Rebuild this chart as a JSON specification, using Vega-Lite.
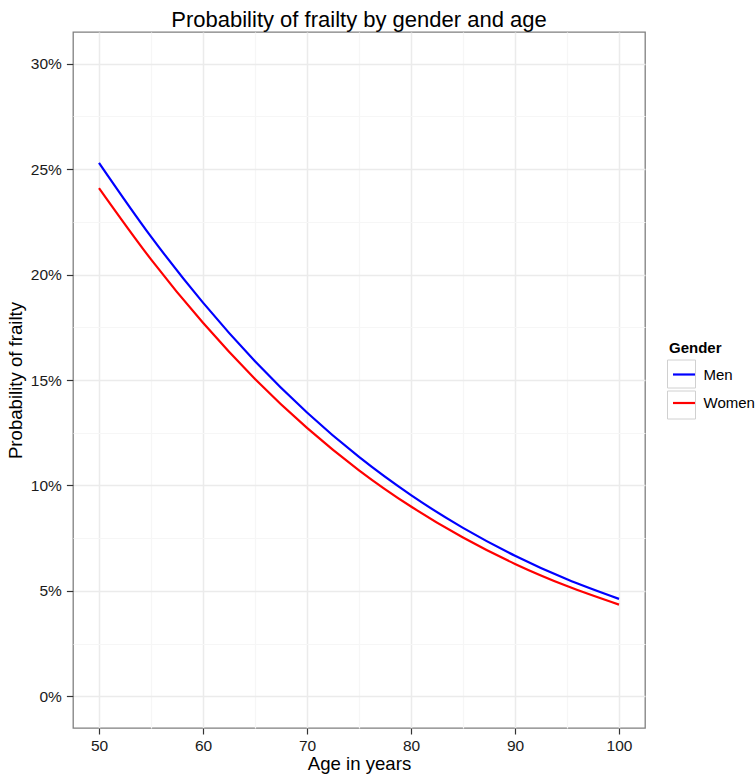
{
  "$schema": "https://vega.github.io/schema/vega-lite/v6.json",
  "autosize": "none",
  "width": 572,
  "height": 696,
  "padding": {"left": 73, "top": 32, "right": 110, "bottom": 46},
  "background": "white",
  "title": {
    "text": "Probability of frailty by gender and age",
    "font": "Liberation Sans",
    "fontSize": 22,
    "fontWeight": "normal",
    "color": "#000000",
    "anchor": "middle",
    "frame": "group",
    "baseline": "top",
    "offset": 0
  },
  "config": {
    "view": {"stroke": "#7f7f7f", "strokeWidth": 1.3},
    "font": "Liberation Sans",
    "axis": {
      "domain": false,
      "labelFont": "Liberation Sans",
      "labelFontSize": 15.5,
      "labelColor": "#1a1a1a",
      "titleFont": "Liberation Sans",
      "titleFontSize": 18.6,
      "titleFontWeight": "normal",
      "titleColor": "#000000",
      "tickColor": "#333333",
      "tickSize": 6,
      "tickWidth": 1.2
    },
    "legend": {"padding": 0}
  },
  "data": {
    "values": [
      {"age": 50, "gender": "Men", "p": 0.2530},
      {"age": 55, "gender": "Men", "p": 0.2180},
      {"age": 60, "gender": "Men", "p": 0.1867},
      {"age": 65, "gender": "Men", "p": 0.1589},
      {"age": 70, "gender": "Men", "p": 0.1346},
      {"age": 75, "gender": "Men", "p": 0.1135},
      {"age": 80, "gender": "Men", "p": 0.0954},
      {"age": 85, "gender": "Men", "p": 0.0799},
      {"age": 90, "gender": "Men", "p": 0.0667},
      {"age": 95, "gender": "Men", "p": 0.0555},
      {"age": 100, "gender": "Men", "p": 0.0462},
      {"age": 50, "gender": "Women", "p": 0.2410},
      {"age": 55, "gender": "Women", "p": 0.2072},
      {"age": 60, "gender": "Women", "p": 0.1771},
      {"age": 65, "gender": "Women", "p": 0.1505},
      {"age": 70, "gender": "Women", "p": 0.1273},
      {"age": 75, "gender": "Women", "p": 0.1072},
      {"age": 80, "gender": "Women", "p": 0.0900},
      {"age": 85, "gender": "Women", "p": 0.0753},
      {"age": 90, "gender": "Women", "p": 0.0628},
      {"age": 95, "gender": "Women", "p": 0.0523},
      {"age": 100, "gender": "Women", "p": 0.0435}
    ]
  },
  "encoding": {
    "x": {
      "field": "age",
      "type": "quantitative",
      "scale": {"domain": [47.5, 102.5], "nice": false, "zero": false},
      "axis": {
        "title": "Age in years",
        "values": [50, 55, 60, 65, 70, 75, 80, 85, 90, 95, 100],
        "labelExpr": "datum.value % 10 == 0 ? datum.label : ''",
        "labelPadding": 4.5,
        "titleBaseline": "alphabetic",
        "titlePadding": 15,
        "tickOpacity": {"condition": {"test": "datum.value % 10 == 0", "value": 1}, "value": 0},
        "gridColor": {"condition": {"test": "datum.value % 10 == 0", "value": "#ebebeb"}, "value": "#f6f6f6"},
        "gridWidth": {"condition": {"test": "datum.value % 10 == 0", "value": 1.5}, "value": 1.2}
      }
    },
    "y": {
      "field": "p",
      "type": "quantitative",
      "scale": {"domain": [-0.015, 0.315], "nice": false, "zero": false},
      "axis": {
        "title": "Probability of frailty",
        "format": ".0%",
        "values": [0, 0.025, 0.05, 0.075, 0.1, 0.125, 0.15, 0.175, 0.2, 0.225, 0.25, 0.275, 0.3],
        "labelExpr": "round(datum.value*1000) % 50 == 0 ? datum.label : ''",
        "labelPadding": 5,
        "tickSize": 6.6,
        "titleBaseline": "alphabetic",
        "titlePadding": 9,
        "tickOpacity": {"condition": {"test": "round(datum.value*1000) % 50 == 0", "value": 1}, "value": 0},
        "gridColor": {"condition": {"test": "round(datum.value*1000) % 50 == 0", "value": "#ebebeb"}, "value": "#f6f6f6"},
        "gridWidth": {"condition": {"test": "round(datum.value*1000) % 50 == 0", "value": 1.5}, "value": 1.2}
      }
    }
  },
  "layer": [
    {
      "mark": {"type": "point", "opacity": 0, "filled": false},
      "encoding": {
        "shape": {
          "field": "gender",
          "type": "nominal",
          "scale": {"domain": ["Women", "Men"], "range": ["square", "square"]},
          "legend": {
            "title": null,
            "orient": "none",
            "legendX": 594,
            "legendY": 327.5,
            "labelExpr": "''",
            "labelFontSize": 1,
            "symbolSize": 784,
            "symbolOpacity": 1,
            "symbolStrokeColor": "#d0d0d0",
            "symbolFillColor": "transparent",
            "symbolStrokeWidth": 1,
            "rowPadding": -2
          }
        }
      }
    },
    {
      "mark": {"type": "line", "strokeWidth": 2.2, "interpolate": "monotone", "clip": true},
      "encoding": {
        "color": {
          "field": "gender",
          "type": "nominal",
          "scale": {"domain": ["Men", "Women"], "range": ["#0000ff", "#ff0000"]},
          "legend": {
            "title": "Gender",
            "orient": "none",
            "legendX": 596,
            "legendY": 309,
            "titleFont": "Liberation Sans",
            "titleFontSize": 15,
            "titleFontWeight": "bold",
            "titleColor": "#000000",
            "titlePadding": 6,
            "labelFont": "Liberation Sans",
            "labelFontSize": 15,
            "labelColor": "#000000",
            "labelOffset": 7,
            "symbolType": "stroke",
            "symbolSize": 484,
            "symbolOffset": 2.5,
            "symbolStrokeWidth": 2.2,
            "rowPadding": 7.5
          }
        }
      }
    }
  ]
}
